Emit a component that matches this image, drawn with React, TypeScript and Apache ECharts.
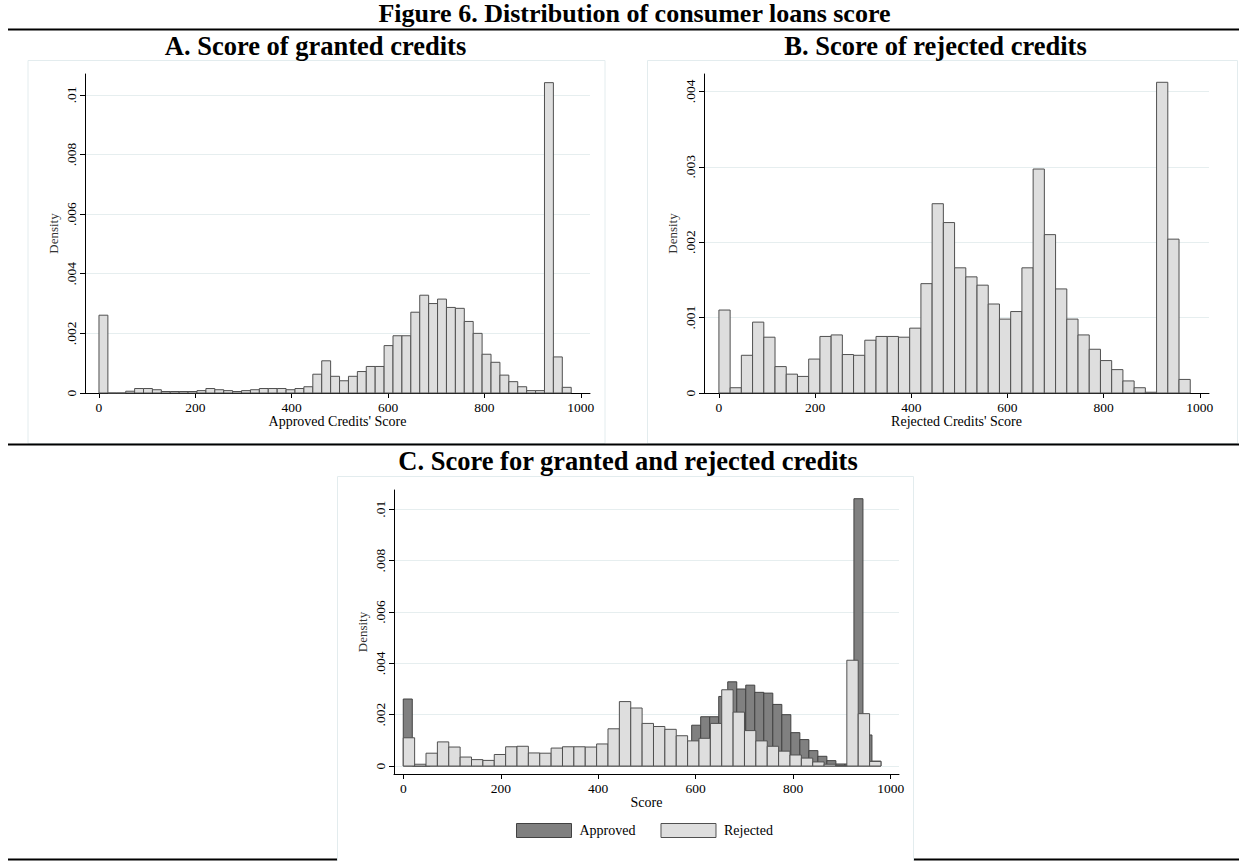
import React, { useEffect, useRef } from 'react';
import * as echarts from 'echarts';

// ---- data ----
const SCORE_MAX = 980;
const APPROVED_BINS = 53;
const REJECTED_BINS = 42;

const approvedDensity = [
  0.00261, 0.0, 0.0, 0.00006, 0.00015, 0.00015, 0.00011, 0.00005, 0.00005, 0.00005,
  0.00005, 0.00008, 0.00015, 0.00011, 0.00008, 0.00005, 0.00008, 0.00011, 0.00015, 0.00015,
  0.00015, 0.00011, 0.00015, 0.00021, 0.00063, 0.00108, 0.00056, 0.00041, 0.00056, 0.00072,
  0.00089, 0.00089, 0.00159, 0.00192, 0.00192, 0.00271, 0.00328, 0.003, 0.00315, 0.00287,
  0.00284, 0.0024, 0.002, 0.0013, 0.00103, 0.0006, 0.00038, 0.00021, 0.00008, 0.00008,
  0.01041, 0.00121, 0.00019,
];

const rejectedDensity = [
  0.0011, 0.00007, 0.0005, 0.00094, 0.00074, 0.00035, 0.00025, 0.00022, 0.00045, 0.00075,
  0.00077, 0.00051, 0.0005, 0.0007, 0.00075, 0.00075, 0.00074, 0.00086, 0.00145, 0.00251,
  0.00226, 0.00166, 0.00154, 0.00143, 0.00118, 0.00098, 0.00108, 0.00166, 0.00297, 0.0021,
  0.00138, 0.00098, 0.00077, 0.00058, 0.00043, 0.00031, 0.00016, 0.00007, 0.00001, 0.00412,
  0.00204, 0.00018,
];

const xTicks = [0, 200, 400, 600, 800, 1000];
const yTicksApproved = [0, 0.002, 0.004, 0.006, 0.008, 0.01];
const yTicksRejected = [0, 0.001, 0.002, 0.003, 0.004];

const FONT = "'Liberation Serif', 'Times New Roman', serif";
const LIGHT_FILL = '#dedede';
const LIGHT_STROKE = '#505050';
const DARK_FILL = '#808080';
const DARK_STROKE = '#424242';
const GRID_LINE = '#e6eeef';

function toBins(values: number[], nBins: number) {
  const w = SCORE_MAX / nBins;
  return values.map((v, i) => [i * w, (i + 1) * w, v]);
}

const fmtDensity = (v: number) =>
  v === 0 ? '0' : String(parseFloat(v.toFixed(6))).replace(/^0\./, '.');

const fmtScore = (v: number) => String(Math.round(v));

const histItem = (fill: string, stroke: string) => (params: any, api: any) => {
  const x0 = api.value(0);
  const x1 = api.value(1);
  const y = api.value(2);
  const tl = api.coord([x0, y]);
  const br = api.coord([x1, 0]);
  return {
    type: 'rect',
    shape: { x: tl[0], y: tl[1], width: br[0] - tl[0], height: br[1] - tl[1] },
    style: { fill, stroke, lineWidth: 1 },
  };
};

const xAxisCfg = (gridIndex: number, min: number, max: number, name: string) => ({
  gridIndex,
  type: 'value',
  min,
  max,
  name,
  nameLocation: 'middle',
  nameGap: 21,
  nameTextStyle: { fontFamily: FONT, fontSize: 14, color: '#000' },
  axisLine: { show: true, onZero: false, lineStyle: { color: '#000', width: 1 } },
  axisTick: { show: true, length: 5, customValues: xTicks, lineStyle: { color: '#000' } },
  axisLabel: {
    customValues: xTicks,
    formatter: fmtScore,
    fontFamily: FONT,
    fontSize: 13.5,
    color: '#000',
    margin: 7,
  },
  splitLine: { show: false },
});

const yAxisCfg = (gridIndex: number, min: number, max: number, ticks: number[]) => ({
  gridIndex,
  type: 'value',
  min,
  max,
  name: 'Density',
  nameLocation: 'middle',
  nameRotate: 90,
  nameGap: 25,
  nameTextStyle: { fontFamily: FONT, fontSize: 13, color: '#333' },
  axisLine: { show: true, onZero: false, lineStyle: { color: '#000', width: 1 } },
  axisTick: { show: true, length: 5, customValues: ticks, lineStyle: { color: '#000' } },
  axisLabel: {
    customValues: ticks,
    rotate: 90,
    formatter: fmtDensity,
    fontFamily: FONT,
    fontSize: 13.5,
    color: '#000',
    margin: 7,
  },
  splitLine: { show: true, lineStyle: { color: GRID_LINE, width: 1 } },
});

const titleText = (text: string, x: number, y: number, size: number) => ({
  type: 'text',
  x,
  y,
  style: {
    text,
    fontFamily: FONT,
    fontSize: size,
    fontWeight: 'bold',
    fill: '#000',
    align: 'center',
    verticalAlign: 'top',
  },
});

const rule = (x1: number, x2: number, y: number) => ({
  type: 'line',
  shape: { x1, y1: y, x2, y2: y },
  style: { stroke: '#000', lineWidth: 2 },
});

const box = (x: number, y: number, w: number, h: number) => ({
  type: 'rect',
  shape: { x, y, width: w, height: h },
  style: { fill: 'none', stroke: '#e3ecee', lineWidth: 1 },
  z: -1,
});

export default function App() {
  const ref = useRef<HTMLDivElement>(null);

  useEffect(() => {
    if (!ref.current) return;
    const chart = echarts.init(ref.current, null, { renderer: 'svg' });

    const approvedBins = toBins(approvedDensity, APPROVED_BINS);
    const rejectedBins = toBins(rejectedDensity, REJECTED_BINS);

    chart.setOption({
      animation: false,
      backgroundColor: '#fff',
      grid: [
        { left: 85, top: 74, width: 505, height: 319, outerBoundsMode: 'none' },
        { left: 704, top: 74, width: 505, height: 319, outerBoundsMode: 'none' },
        { left: 394, top: 490, width: 505, height: 284, outerBoundsMode: 'none' },
      ],
      xAxis: [
        xAxisCfg(0, -29, 1019, "Approved Credits' Score"),
        xAxisCfg(1, -31, 1019, "Rejected Credits' Score"),
        xAxisCfg(2, -19, 1017, 'Score'),
      ],
      yAxis: [
        yAxisCfg(0, 0, 0.0107, yTicksApproved),
        yAxisCfg(1, 0, 0.00423, yTicksRejected),
        yAxisCfg(2, -0.00031, 0.01075, yTicksApproved),
      ],
      legend: {
        data: [
          { name: 'Approved', itemStyle: { color: DARK_FILL, borderColor: DARK_STROKE, borderWidth: 1 } },
          { name: 'Rejected', itemStyle: { color: LIGHT_FILL, borderColor: LIGHT_STROKE, borderWidth: 1 } },
        ],
        left: 516,
        top: 823,
        padding: 0,
        icon: 'rect',
        itemWidth: 55,
        itemHeight: 14,
        itemGap: 25,
        selectedMode: false,
        textStyle: { fontFamily: FONT, fontSize: 14, color: '#000', padding: [0, 0, 0, 3] },
      },
      series: [
        {
          name: 'Approved credits',
          type: 'custom',
          xAxisIndex: 0,
          yAxisIndex: 0,
          encode: { x: [0, 1], y: 2 },
          renderItem: histItem(LIGHT_FILL, LIGHT_STROKE),
          data: approvedBins,
        },
        {
          name: 'Rejected credits',
          type: 'custom',
          xAxisIndex: 1,
          yAxisIndex: 1,
          encode: { x: [0, 1], y: 2 },
          renderItem: histItem(LIGHT_FILL, LIGHT_STROKE),
          data: rejectedBins,
        },
        {
          name: 'Approved',
          type: 'custom',
          xAxisIndex: 2,
          yAxisIndex: 2,
          encode: { x: [0, 1], y: 2 },
          itemStyle: { color: DARK_FILL, borderColor: DARK_STROKE },
          renderItem: histItem(DARK_FILL, DARK_STROKE),
          data: approvedBins,
        },
        {
          name: 'Rejected',
          type: 'custom',
          xAxisIndex: 2,
          yAxisIndex: 2,
          encode: { x: [0, 1], y: 2 },
          itemStyle: { color: LIGHT_FILL, borderColor: LIGHT_STROKE },
          renderItem: histItem(LIGHT_FILL, LIGHT_STROKE),
          data: rejectedBins,
        },
      ],
      graphic: [
        box(28, 60.5, 577, 383),
        box(647.5, 60.5, 590, 383),
        box(337.5, 476.5, 576, 390),
        titleText('Figure 6. Distribution of consumer loans score', 634.5, 0, 26),
        titleText('A. Score of granted credits', 315.5, 32, 26.5),
        titleText('B. Score of rejected credits', 935.5, 32, 26.5),
        titleText('C. Score for granted and rejected credits', 628, 447, 26.5),
        rule(8, 1239, 29.5),
        rule(8, 1239, 444.5),
        rule(8, 337, 859.5),
        rule(914, 1239, 859.5),
      ],
    });

    return () => chart.dispose();
  }, []);

  return (
    <div
      ref={ref}
      style={{ position: 'absolute', left: 0, top: 0, width: 1239, height: 861 }}
    />
  );
}
